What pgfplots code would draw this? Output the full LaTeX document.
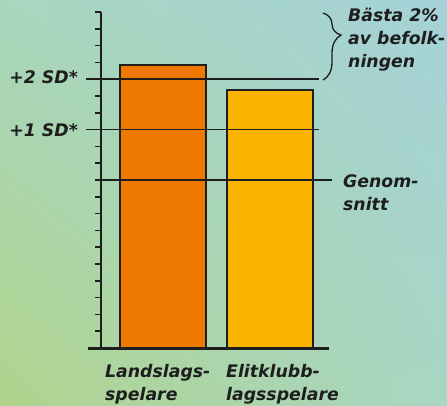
\documentclass[border=0pt]{standalone}
\usepackage{pgfplots}
\pgfplotsset{compat=1.18}
\usepackage{fontspec}
\setmainfont{DejaVu Sans}
\usetikzlibrary{decorations.pathreplacing,shadings}
\definecolor{bgTL}{HTML}{A8D6BE}
\definecolor{bgTR}{HTML}{A5D2D8}
\definecolor{bgBL}{HTML}{B0D48C}
\definecolor{bgBR}{HTML}{A7D6C4}
\definecolor{barorange}{HTML}{EE7800}
\definecolor{baryellow}{HTML}{FBB400}
\definecolor{ink}{HTML}{1E1E1E}
\begin{document}
\begin{tikzpicture}[lab/.style={font=\fontsize{17.3}{23.5}\selectfont\bfseries\itshape, text=ink, inner sep=0pt}]
\useasboundingbox (0,0) rectangle (447pt,405pt);
\clip (0,0) rectangle (447pt,405pt);
\shade[upper left=bgTL, upper right=bgTR, lower left=bgBL, lower right=bgBR] (0,0) rectangle (447pt,405pt);
\begin{axis}[at={(101pt,57pt)}, anchor=south west, scale only axis,
  width=231pt, height=336pt, xmin=101, xmax=332, ymin=0, ymax=20,
  axis x line=none, axis y line*=left,
  y axis line style={line width=2.4pt, color=ink, -},
  xtick=\empty, ytick={1,...,20}, yticklabels={},
  tick align=outside, major tick length=6pt,
  ytick style={line width=1.5pt, color=ink},
  clip=false]
\addplot[ybar, bar width=86pt, bar shift=0pt, fill=barorange, draw=ink, line width=2.3pt] coordinates {(163,16.85)};
\addplot[ybar, bar width=86pt, bar shift=0pt, fill=baryellow, draw=ink, line width=2.3pt] coordinates {(270,15.35)};
\draw[ink, line width=3pt] (axis cs:88,0) -- (axis cs:329,0);
\draw[ink, line width=1.5pt] (axis cs:86,16) -- (axis cs:319,16);
\draw[ink, line width=1.5pt] (axis cs:86,13) -- (axis cs:319,13);
\draw[ink, line width=1.5pt] (axis cs:95,10) -- (axis cs:332,10);
\end{axis}
\draw[ink, line width=1.3pt, decorate, decoration={brace, amplitude=18pt, aspect=0.33}] (323pt,392pt) -- (323pt,325pt);
\node[lab, anchor=base east] at (78pt,321pt) {+2 SD*};
\node[lab, anchor=base east] at (78pt,268pt) {+1 SD*};
\node[lab, anchor=base west] at (348pt,383pt) {Bästa 2\%};
\node[lab, anchor=base west] at (348pt,360pt) {av befolk-};
\node[lab, anchor=base west] at (348pt,337pt) {ningen};
\node[lab, anchor=base west] at (343pt,218pt) {Genom-};
\node[lab, anchor=base west] at (343pt,195pt) {snitt};
\node[lab, anchor=base west] at (105pt,28pt) {Landslags-};
\node[lab, anchor=base west] at (105pt,4.5pt) {spelare};
\node[lab, anchor=base west] at (226pt,28pt) {Elitklubb-};
\node[lab, anchor=base west] at (226pt,4.5pt) {lagsspelare};
\end{tikzpicture}
\end{document}
